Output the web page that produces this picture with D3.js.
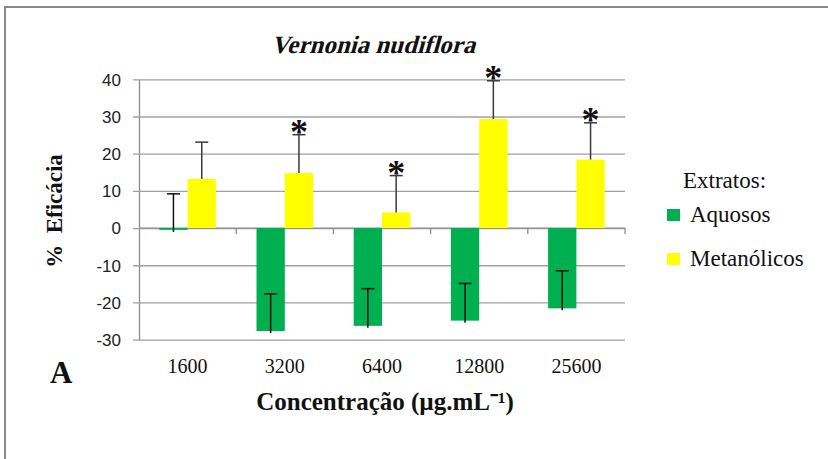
<!DOCTYPE html>
<html>
<head>
<meta charset="utf-8">
<script src="https://cdn.jsdelivr.net/npm/d3@7"></script>
<style>
  body { margin: 0; background: #fff; }
  svg { display: block; }
</style>
</head>
<body>
<svg id="chart" width="828" height="459"></svg>
<script>
const categories = ["1600", "3200", "6400", "12800", "25600"];
const series = ["Aquosos", "Metanólicos"];
const aquosos = [-0.5, -27.7, -26.3, -24.9, -21.6];
const aquososErr = [9.7, 10.0, 10.0, 10.0, 10.1];
const metanolicos = [13.2, 14.8, 4.2, 29.3, 18.4];
const metanolicosErr = [9.9, 10.3, 9.9, 10.3, 9.9];
const significant = [false, true, true, true, true];
const yTicks = [40, 30, 20, 10, 0, -10, -20, -30];

const serif = "'Liberation Serif', 'Times New Roman', serif";
const sans = "'Liberation Sans', Arial, sans-serif";
const colors = { "Aquosos": "#00b050", "Metanólicos": "#ffff00" };
const errColors = { "Aquosos": "#111", "Metanólicos": "#3a3a3a" };

const margin = { left: 139, right: 625, top: 79.3, bottom: 339.6 };

const x0 = d3.scaleBand()
    .domain(categories)
    .range([margin.left, margin.right]);
const x1 = d3.scaleBand()
    .domain(series)
    .range([0, x0.bandwidth()])
    .paddingOuter(0.717);
const y = d3.scaleLinear()
    .domain([-30, 40])
    .range([margin.bottom, margin.top]);

const svg = d3.select("#chart");

// outer frame (only top and left edges show)
svg.append("path")
    .attr("d", "M5,459V7H828")
    .attr("fill", "none")
    .attr("stroke", "#8a8a8a")
    .attr("stroke-width", 2);

// gridlines + left axis with ticks
const yAxis = d3.axisLeft(y)
    .tickValues(yTicks)
    .tickSize(-(margin.right - margin.left))
    .tickSizeOuter(0)
    .tickFormat("");
const gy = svg.append("g")
    .attr("transform", `translate(${margin.left},0)`)
    .call(yAxis);
gy.select(".domain").attr("stroke", "#8c8c8c").attr("stroke-width", 1.3);
gy.selectAll(".tick line")
    .attr("x1", -6)
    .attr("stroke", "#a0a0a0")
    .attr("stroke-width", 1.3);

gy.selectAll(".tick")
    .append("text")
    .attr("x", -18)
    .attr("dy", "0.35em")
    .attr("text-anchor", "end")
    .attr("fill", "#222")
    .style("font-family", sans)
    .style("font-size", "17px")
    .text(d => d);

// category axis at zero
const boundaries = categories.map(c => x0(c)).concat([margin.right]);
const gx = svg.append("g");
gx.append("line")
    .attr("x1", margin.left).attr("x2", margin.right)
    .attr("y1", y(0)).attr("y2", y(0))
    .attr("stroke", "#8c8c8c").attr("stroke-width", 1.3);
gx.selectAll(".xtick")
    .data(boundaries.slice(1))
    .join("line")
    .attr("class", "xtick")
    .attr("x1", d => d).attr("x2", d => d)
    .attr("y1", y(0)).attr("y2", y(0) + 6)
    .attr("stroke", "#8c8c8c").attr("stroke-width", 1.3);

svg.append("g")
    .selectAll("text")
    .data(categories)
    .join("text")
    .attr("x", d => x0(d) + x0.bandwidth() / 2)
    .attr("y", 373)
    .attr("text-anchor", "middle")
    .attr("fill", "#111")
    .style("font-family", serif)
    .style("font-size", "20px")
    .text(d => d);

// bars
const rows = [];
categories.forEach((c, i) => {
    rows.push({ cat: c, s: "Aquosos", v: aquosos[i], e: aquososErr[i], star: false });
    rows.push({ cat: c, s: "Metanólicos", v: metanolicos[i], e: metanolicosErr[i], star: significant[i] });
});

const bars = svg.append("g");
bars.selectAll("rect")
    .data(rows)
    .join("rect")
    .attr("x", d => x0(d.cat) + x1(d.s))
    .attr("width", x1.bandwidth())
    .attr("y", d => y(Math.max(0, d.v)))
    .attr("height", d => Math.abs(y(d.v) - y(0)))
    .attr("fill", d => colors[d.s]);

// error bars (plus direction only)
const capW = 13;
const err = svg.append("g");
err.selectAll(".stem")
    .data(rows)
    .join("line")
    .attr("class", "stem")
    .attr("x1", d => x0(d.cat) + x1(d.s) + x1.bandwidth() / 2)
    .attr("x2", d => x0(d.cat) + x1(d.s) + x1.bandwidth() / 2)
    .attr("y1", d => y(d.v) + (d.v < 0 ? 2 : 0))
    .attr("y2", d => y(d.v + d.e))
    .attr("stroke", d => errColors[d.s])
    .attr("stroke-width", 1.5);
err.selectAll(".cap")
    .data(rows)
    .join("line")
    .attr("class", "cap")
    .attr("x1", d => x0(d.cat) + x1(d.s) + x1.bandwidth() / 2 - capW / 2)
    .attr("x2", d => x0(d.cat) + x1(d.s) + x1.bandwidth() / 2 + capW / 2)
    .attr("y1", d => y(d.v + d.e))
    .attr("y2", d => y(d.v + d.e))
    .attr("stroke", d => errColors[d.s])
    .attr("stroke-width", 1.5);

// significance marks
svg.append("g")
    .selectAll("text")
    .data(rows.filter(d => d.star))
    .join("text")
    .attr("x", d => x0(d.cat) + x1(d.s) + x1.bandwidth() / 2)
    .attr("y", d => y(d.v + d.e) + 9)
    .attr("text-anchor", "middle")
    .attr("fill", "#111")
    .style("font-family", serif)
    .style("font-weight", "bold")
    .style("font-size", "36px")
    .text("*");

// title (bold serif, slanted by hand since no serif italic face is installed)
svg.append("text")
    .attr("transform", "translate(373,53) skewX(-16)")
    .attr("x", 0)
    .attr("y", 0)
    .attr("text-anchor", "middle")
    .attr("fill", "#111")
    .style("font-family", serif)
    .style("font-weight", "bold")
    .style("font-size", "25px")
    .text("Vernonia nudiflora");

// y label
svg.append("text")
    .attr("transform", "translate(62,211) rotate(-90)")
    .attr("text-anchor", "middle")
    .attr("fill", "#111")
    .attr("xml:space", "preserve")
    .style("font-family", serif)
    .style("font-weight", "bold")
    .style("font-size", "23px")
    .style("white-space", "pre")
    .text("%  Eficácia");

// x label
svg.append("text")
    .attr("x", 385)
    .attr("y", 410)
    .attr("text-anchor", "middle")
    .attr("fill", "#111")
    .style("font-family", serif)
    .style("font-weight", "bold")
    .style("font-size", "25px")
    .text("Concentração (µg.mL⁻¹)");

// panel letter
svg.append("text")
    .attr("x", 50)
    .attr("y", 383)
    .attr("fill", "#111")
    .style("font-family", serif)
    .style("font-weight", "bold")
    .style("font-size", "31px")
    .text("A");

// legend
const legend = svg.append("g");
legend.append("text")
    .attr("x", 683)
    .attr("y", 188)
    .attr("fill", "#111")
    .style("font-family", serif)
    .style("font-size", "23px")
    .text("Extratos:");
const item = legend.selectAll(".item")
    .data(series)
    .join("g")
    .attr("class", "item")
    .attr("transform", (d, i) => `translate(667,${209 + i * 44})`);
item.append("rect")
    .attr("width", 13)
    .attr("height", 12)
    .attr("fill", d => colors[d]);
item.append("text")
    .attr("x", 23)
    .attr("y", 13)
    .attr("fill", "#111")
    .style("font-family", serif)
    .style("font-size", "23px")
    .text(d => d);
</script>
</body>
</html>
